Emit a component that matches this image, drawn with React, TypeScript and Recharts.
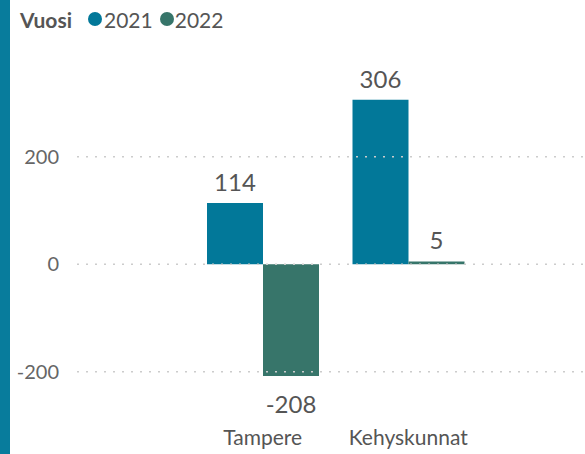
import React from "react";
import { BarChart, Bar, XAxis, YAxis, ReferenceLine, LabelList } from "recharts";

const categories = ["Tampere", "Kehyskunnat"];
const values2021 = [114, 306];
const values2022 = [-208, 5];
const yTicks = [-200, 0, 200];
const seriesNames = ["2021", "2022"];

const data = categories.map((c, i) => ({
  name: c,
  v2021: values2021[i],
  v2022: values2022[i],
}));

const BLUE = "#027899";
const GREEN = "#37756a";
const FONT = "Lato, 'Open Sans', sans-serif";

const ValueLabel = (props: any) => {
  const { x, y, width, height, value } = props;
  const top = Math.min(y, y + height);
  const bottom = Math.max(y, y + height);
  const cx = x + width / 2;
  const ty = value >= 0 ? top - 12 : bottom + 37;
  return (
    <text x={cx} y={ty} textAnchor="middle" fill="#555555" fontSize={24} fontFamily={FONT}>
      {value}
    </text>
  );
};

export default function App() {
  return (
    <div style={{ position: "fixed", left: 0, top: 0, width: 585, height: 454, background: "#fff" }}>
      <div style={{ position: "absolute", left: 0, top: 0, width: 10, height: 454, background: "#087c9c" }} />
      <div
        style={{
          position: "absolute",
          left: 20,
          top: 6,
          height: 26,
          display: "flex",
          alignItems: "center",
          fontFamily: FONT,
          fontSize: 21,
          color: "#555555",
        }}
      >
        <span style={{ fontWeight: 700, marginRight: 16 }}>Vuosi</span>
        <span style={{ width: 14, height: 14, borderRadius: 7, background: BLUE, display: "inline-block", marginRight: 2 }} />
        <span style={{ marginRight: 7 }}>{seriesNames[0]}</span>
        <span style={{ width: 14, height: 14, borderRadius: 7, background: GREEN, display: "inline-block", marginRight: 1 }} />
        <span>{seriesNames[1]}</span>
      </div>
      <BarChart
        width={585}
        height={454}
        data={data}
        margin={{ top: 60, right: 0, left: 0, bottom: 0 }}
        barCategoryGap={17}
        barGap={0}
      >
        <XAxis
          dataKey="name"
          axisLine={false}
          tickLine={false}
          height={34}
          tickMargin={4}
          padding={{ left: 113, right: 104 }}
          tick={{ fill: "#555555", fontSize: 21, fontFamily: FONT }}
        />
        <YAxis
          width={77}
          domain={[-290, 380]}
          ticks={yTicks}
          axisLine={false}
          tickLine={false}
          tickMargin={12}
          tick={{ fill: "#666666", fontSize: 20, fontFamily: FONT }}
        />
        {yTicks.map((t) => (
          <ReferenceLine key={t} y={t} stroke="#cccccc" strokeDasharray="2 7" strokeWidth={1.5} />
        ))}
        <Bar dataKey="v2021" fill={BLUE} isAnimationActive={false}>
          <LabelList dataKey="v2021" content={ValueLabel} />
        </Bar>
        <Bar dataKey="v2022" fill={GREEN} isAnimationActive={false}>
          <LabelList dataKey="v2022" content={ValueLabel} />
        </Bar>
      </BarChart>
    </div>
  );
}
